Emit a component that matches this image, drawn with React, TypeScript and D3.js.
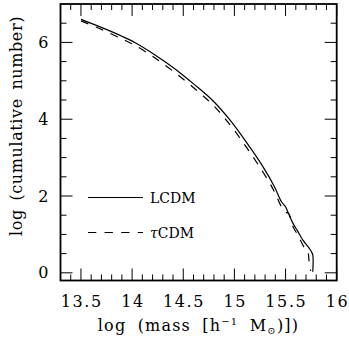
import React from "react";
import * as d3 from "d3";

const lcdmX = [13.5, 13.7, 13.9, 14.03, 14.22, 14.42, 14.61, 14.79, 14.95, 15.12, 15.28, 15.39, 15.46, 15.5, 15.52, 15.57, 15.62, 15.67, 15.72, 15.75, 15.766, 15.766];
const lcdmY = [6.6, 6.39, 6.16, 5.99, 5.68, 5.31, 4.9, 4.48, 4.0, 3.39, 2.76, 2.25, 1.85, 1.72, 1.6, 1.3, 1.08, 0.85, 0.68, 0.56, 0.47, 0.03];
const tcdmX = [13.5, 13.7, 13.9, 14.03, 14.22, 14.42, 14.61, 14.79, 14.95, 15.12, 15.28, 15.38, 15.46, 15.5, 15.53, 15.57, 15.62, 15.67, 15.7, 15.72, 15.73, 15.745];
const tcdmY = [6.56, 6.34, 6.09, 5.92, 5.6, 5.21, 4.8, 4.37, 3.88, 3.26, 2.62, 2.17, 1.72, 1.58, 1.55, 1.22, 0.98, 0.72, 0.58, 0.52, 0.3, 0.05];
const xMajorTicks = [13.5, 14, 14.5, 15, 15.5, 16];
const xTickLabels = ["13.5", "14", "14.5", "15", "15.5", "16"];
const yMajorTicks = [0, 2, 4, 6];
const yTickLabels = ["0", "2", "4", "6"];
const seriesNames = ["LCDM", "CDM"];

export default function App() {
  const left = 60.5, right = 336.7, top = 4, bottom = 280.5;
  const x = d3.scaleLinear().domain([13.3, 16]).range([left, right]);
  const y = d3.scaleLinear().domain([-0.2, 7]).range([bottom, top]);
  const line = d3.line<[number, number]>().x(d => x(d[0])).y(d => y(d[1])).curve(d3.curveCatmullRom.alpha(0.5));
  const lcdm = lcdmX.map((v, i) => [v, lcdmY[i]] as [number, number]);
  const tcdm = tcdmX.map((v, i) => [v, tcdmY[i]] as [number, number]);
  const xMinor = d3.range(134, 160).map(v => v / 10).filter(v => !xMajorTicks.some(m => Math.abs(m - v) < 1e-6));
  const yMinor = d3.range(1, 14).map(v => v / 2).filter(v => !yMajorTicks.some(m => Math.abs(m - v) < 1e-6));
  const font = "'DejaVu Serif', serif";
  const maj = 12, min = 6;
  return (
    <svg width={349} height={341} style={{ position: "absolute", left: 0, top: 0, background: "#fff" }}>
      <g stroke="#000" strokeWidth={1}>
        {xMajorTicks.map(v => (
          <g key={"xm" + v}>
            <line x1={x(v)} x2={x(v)} y1={bottom} y2={bottom - maj} />
            <line x1={x(v)} x2={x(v)} y1={top} y2={top + maj} />
          </g>
        ))}
        {xMinor.map(v => (
          <g key={"xn" + v}>
            <line x1={x(v)} x2={x(v)} y1={bottom} y2={bottom - min} />
            <line x1={x(v)} x2={x(v)} y1={top} y2={top + min} />
          </g>
        ))}
        {yMajorTicks.map(v => (
          <g key={"ym" + v}>
            <line x1={left} x2={left + maj} y1={y(v)} y2={y(v)} />
            <line x1={right} x2={right - maj} y1={y(v)} y2={y(v)} />
          </g>
        ))}
        {yMinor.map(v => (
          <g key={"yn" + v}>
            <line x1={left} x2={left + min} y1={y(v)} y2={y(v)} />
            <line x1={right} x2={right - min} y1={y(v)} y2={y(v)} />
          </g>
        ))}
      </g>
      <rect x={left} y={top} width={right - left} height={bottom - top} fill="none" stroke="#000" strokeWidth={1.8} />
      <path d={line(lcdm) || ""} fill="none" stroke="#000" strokeWidth={1.2} />
      <path d={line(tcdm) || ""} fill="none" stroke="#000" strokeWidth={1.2} strokeDasharray="8,8" />
      <line x1={88} x2={143} y1={197.5} y2={197.5} stroke="#000" strokeWidth={1.2} />
      <line x1={88} x2={143} y1={232.5} y2={232.5} stroke="#000" strokeWidth={1.2} strokeDasharray="8.3,8.3" />
      <text x={150} y={203} fontFamily={font} fontSize={14}>{seriesNames[0]}</text>
      <text x={150} y={238} fontFamily={font} fontSize={14}>
        <tspan fontStyle="italic">τ</tspan>{seriesNames[1]}
      </text>
      {xMajorTicks.map((v, i) => (
        <text key={"xl" + v} x={x(v) + 0.8} y={306.5} textAnchor="middle" fontFamily={font} fontSize={16} letterSpacing={1.6}>{xTickLabels[i]}</text>
      ))}
      {yMajorTicks.map((v, i) => (
        <text key={"yl" + v} x={48.5} y={y(v) + 5.5} textAnchor="end" fontFamily={font} fontSize={16}>{yTickLabels[i]}</text>
      ))}
      <text x={198.5} y={331} textAnchor="middle" fontFamily={font} fontSize={16} letterSpacing={1.2} wordSpacing={5}>
        log (mass [h<tspan fontSize={10} dy={-6}>−1</tspan><tspan dy={6}> M</tspan><tspan fontSize={10} dy={3}>⊙</tspan><tspan dy={-3}>)])</tspan>
      </text>
      <text transform="translate(22,126) rotate(-90)" textAnchor="middle" fontFamily={font} fontSize={16} letterSpacing={0.6} wordSpacing={3}>log (cumulative number)</text>
    </svg>
  );
}
